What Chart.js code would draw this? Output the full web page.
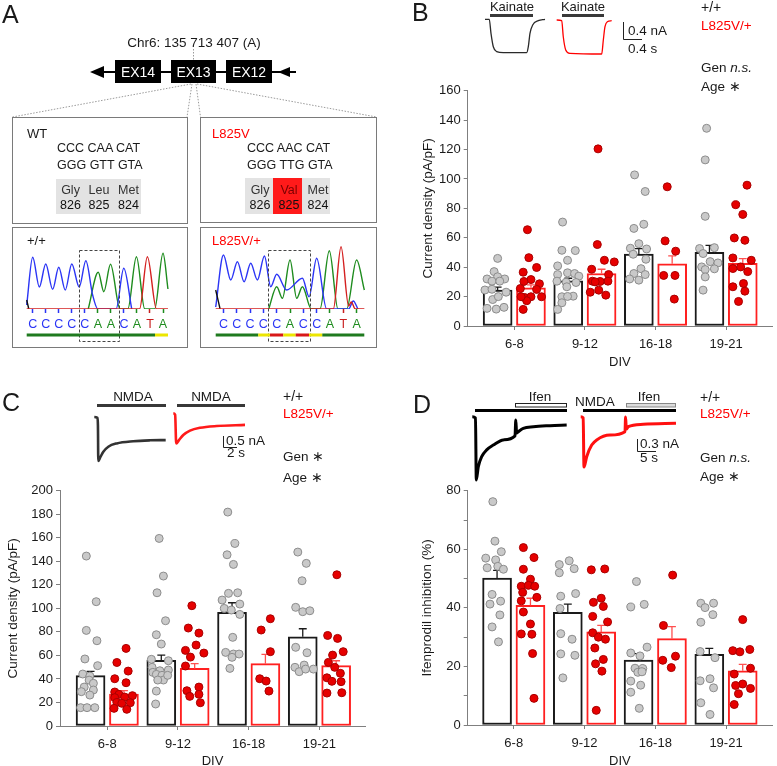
<!DOCTYPE html>
<html>
<head>
<meta charset="utf-8">
<title>GluN2A L825V currents</title>
<script src="https://cdn.jsdelivr.net/npm/chart.js@4.4.1/dist/chart.umd.min.js"></script>
<style>
  body { margin: 0; width: 777px; height: 766px; position: relative; overflow: hidden; background: #fff;
         font-family: "Liberation Sans", Arial, sans-serif; color: #1a1a1a; }
  canvas { position: absolute; z-index: 1; }
  svg { position: absolute; left: 0; top: 0; z-index: 2; }
  .t { position: absolute; white-space: pre; line-height: 1; z-index: 3; }
</style>
</head>
<body>
<svg width="777" height="766">
  <!-- panel A: gene schematic -->
  <g stroke="#9a9a9a" stroke-dasharray="1.5 1.5" fill="none">
    <line x1="193.5" y1="49" x2="193.5" y2="60"/>
    <line x1="191" y1="84" x2="12.5" y2="117"/>
    <line x1="192" y1="84" x2="187" y2="117"/>
    <line x1="196" y1="84" x2="200.5" y2="117"/>
    <line x1="197" y1="84" x2="376.5" y2="117"/>
  </g>
  <line x1="100" y1="72" x2="296" y2="72" stroke="#000" stroke-width="2"/>
  <polygon points="90,72 104,66 104,78" fill="#000"/>
  <polygon points="278,72 290,67 290,77" fill="#000"/>
  <rect x="115" y="60" width="46" height="23" fill="#000"/>
  <rect x="171" y="60" width="45" height="23" fill="#000"/>
  <rect x="226" y="60" width="46" height="23" fill="#000"/>
  <g fill="none" stroke="#7a7a7a">
    <rect x="12.5" y="117.5" width="175" height="106"/>
    <rect x="200.5" y="117.5" width="176" height="105"/>
    <rect x="12.5" y="227.5" width="175" height="120"/>
    <rect x="200.5" y="227.5" width="176" height="120"/>
  </g>
  <rect x="56" y="179" width="85" height="35" fill="#e3e3e3"/>
  <rect x="245" y="178" width="85" height="36" fill="#e3e3e3"/>
  <rect x="273" y="178" width="29" height="36" fill="#ff1a1a"/>
  <g fill="none" stroke="#444" stroke-dasharray="3 2">
    <rect x="79.5" y="250.5" width="40" height="91"/>
    <rect x="268.5" y="250.5" width="42" height="91"/>
  </g>
  <!-- quality bars under the base calls -->
  <rect x="26.7" y="333.5" width="128.3" height="3" fill="#1f7a1f"/>
  <rect x="155" y="333.5" width="13" height="3" fill="#ece600"/>
  <rect x="215.7" y="333.5" width="42.6" height="3" fill="#1f7a1f"/>
  <rect x="258.3" y="333.5" width="11.7" height="3" fill="#ece600"/>
  <rect x="270" y="333.5" width="13.3" height="3" fill="#d81818"/>
  <rect x="283.3" y="333.5" width="12.4" height="3" fill="#ece600"/>
  <rect x="295.7" y="333.5" width="13.3" height="3" fill="#d81818"/>
  <rect x="309" y="333.5" width="13.3" height="3" fill="#ece600"/>
  <rect x="322.3" y="333.5" width="42" height="3" fill="#1f7a1f"/>
  <!-- panel B stimulus bars and scale bar -->
  <rect x="490" y="14" width="43" height="3" fill="#383838"/>
  <rect x="562" y="14" width="42" height="3" fill="#383838"/>
  <polyline points="623.5,22 623.5,39.5 642,39.5" fill="none" stroke="#222"/>
  <!-- panel C -->
  <rect x="97" y="404" width="69" height="3" fill="#383838"/>
  <rect x="177" y="404" width="68" height="3" fill="#383838"/>
  <polyline points="223.5,436 223.5,447.5 237,447.5" fill="none" stroke="#222"/>
  <!-- panel D -->
  <rect x="515.5" y="403.5" width="51" height="3.5" fill="#fff" stroke="#222"/>
  <rect x="475" y="409" width="92" height="3" fill="#000"/>
  <rect x="626.5" y="403.5" width="49" height="3.5" fill="#dcdcdc" stroke="#888"/>
  <rect x="583" y="409" width="93" height="3" fill="#000"/>
  <polyline points="637.5,439 637.5,451.5 656,451.5" fill="none" stroke="#222"/>
</svg>
<script>
// ---- data ----
const divLabels = ['6-8', '9-12', '16-18', '19-21'];

// B: kainate current density (pA/pF); points are [value, x-offset within bar]
const kaWtMean = [24.4, 30.7, 49.0, 50.2];
const kaWtSem = [2.1, 1.8, 3.7, 4.7];
const kaMutMean = [26.0, 35.7, 42.3, 42.7];
const kaMutSem = [2.0, 2.9, 5.4, 3.2];
const kaWtPts = [
  [[46,0],[37,-0.05],[32,-0.15],[33.5,0],[32,0.1],[30.5,-0.08],[30.5,0.03],[24.5,-0.18],[25,-0.08],[23,0.12],[18,-0.07],[20,0.01],[12,-0.15],[11.5,-0.02],[12.7,0.09]],
  [[70.7,-0.08],[51.5,-0.09],[51.3,0.1],[44.7,-0.01],[40.9,-0.15],[36.2,-0.01],[35.7,0.09],[33.9,0.15],[35,-0.15],[30.5,-0.16],[29.8,-0.03],[29.6,0.11],[26.7,-0.02],[19.9,-0.09],[20.3,0.07],[20.1,-0.01],[15.8,-0.09],[11.3,-0.15]],
  [[102.8,-0.06],[91.5,0.09],[69.2,0.07],[66.4,-0.07],[56,0],[52.9,-0.12],[52.4,0.11],[48.8,-0.08],[45.4,0.1],[35.7,-0.07],[39,0.03],[35,0.09],[32,-0.13],[31.2,0]],
  [[134.5,-0.04],[113,-0.06],[74.6,-0.06],[52.7,-0.14],[53.3,0.07],[49.3,-0.09],[43.8,0.01],[40.2,-0.11],[42.9,0.12],[38.4,-0.06],[38.9,0.07],[33.4,-0.06],[24.4,-0.09]]
];
const kaMutPts = [
  [[65.5,-0.05],[46.5,-0.03],[39.8,0.08],[36.6,-0.11],[31.6,0],[30.3,-0.1],[28.7,0.12],[25.5,-0.15],[24.9,0.08],[19.4,-0.09],[19.9,0],[17.2,-0.06],[19.9,-0.14],[19.9,0.15],[11.3,-0.11]],
  [[120.5,-0.05],[55.4,-0.06],[44.7,0.04],[38.6,-0.14],[43.6,0.18],[35,0.1],[30.5,0.09],[30.5,-0.13],[30.3,-0.02],[30,-0.09],[23,-0.16],[24.4,-0.04],[21,0.06]],
  [[94.7,-0.07],[57.9,-0.1],[50.9,0.05],[34.4,-0.12],[34.4,0.04],[18.3,0.03]],
  [[95.8,0.06],[82.5,-0.1],[75.9,0],[59.9,-0.12],[58.3,0.03],[46.3,-0.14],[44.7,0.12],[39.1,-0.14],[40.2,-0.03],[37,0.07],[28.9,0.01],[26.7,-0.14],[23.7,0.03],[16.7,-0.06]]
];

// C: NMDA current density (pA/pF)
const nmWtMean = [42.8, 55.8, 96.6, 75.9];
const nmWtSem = [3.7, 4.5, 8.2, 6.8];
const nmMutMean = [27.2, 49.0, 53.0, 51.3];
const nmMutSem = [2.8, 4.0, 7.9, 4.2];
const nmWtPts = [
  [[144.5,-0.06],[105.7,0.08],[81.3,-0.06],[72.5,0.09],[57,-0.08],[51.3,0.1],[44.2,-0.11],[42.5,-0.01],[39,-0.02],[36.3,0.04],[33.1,-0.09],[30.6,0.04],[29.2,-0.13],[26.3,-0.01],[15.6,-0.14],[15.6,-0.05],[15.6,0.06]],
  [[159.5,-0.03],[127.5,0.03],[113.3,-0.06],[89.5,0.06],[77.6,-0.07],[69.7,0],[56.7,-0.14],[55.5,0.1],[49.9,-0.13],[47,-0.02],[45.6,-0.12],[43.9,-0.07],[43.1,0.01],[47.6,0.1],[39.1,0.03],[39.1,-0.05],[43.1,0.09],[29.7,-0.07],[18.7,-0.08]],
  [[181.9,-0.06],[155.2,0.04],[145.6,-0.07],[137.4,0.02],[107.1,-0.14],[112.8,-0.05],[113.3,0.08],[103.7,0.11],[100,-0.11],[98.6,-0.01],[94.9,0.11],[75.4,0.01],[62.6,-0.09],[61.2,0.02],[61.2,0.1],[58.4,0],[49,-0.03]],
  [[147.9,-0.07],[138.3,0.05],[123.5,-0.01],[100.9,-0.1],[97.2,0],[98,0.1],[66.9,-0.1],[62.3,0.06],[49.9,-0.11],[46.2,-0.05],[51.8,0.02],[48.4,0.04],[48.4,0.15]]
];
const nmMutPts = [
  [[66,0.03],[54,-0.1],[46.7,0.06],[40.2,-0.13],[36.8,0.03],[28.9,-0.13],[26.9,-0.07],[24.1,-0.13],[24.6,0.01],[25.8,0.12],[20.1,-0.1],[19.3,-0.03],[19.8,0.09],[15,-0.14],[14.2,0.04]],
  [[102.3,-0.04],[83.3,-0.09],[79,0.06],[68.8,0.02],[64.3,-0.13],[62,0.13],[58.6,-0.06],[51,-0.13],[30,-0.11],[33.1,0.06],[25.2,-0.07],[26.9,0.06],[19.8,0.08]],
  [[91.2,0.07],[81.6,-0.06],[63.2,0.07],[40.2,-0.08],[38.2,0.01],[29.7,0.05]],
  [[128.6,0.01],[77,-0.12],[74.5,0.02],[63.2,0.1],[60.3,-0.05],[54.1,-0.11],[49.9,-0.02],[44.8,0.06],[41,-0.13],[38,-0.06],[37.7,0.07],[28,-0.13],[28.3,0.08]]
];

// D: ifenprodil inhibition (%)
const ifWtMean = [50.2, 38.5, 22.2, 24.1];
const ifWtSem = [2.6, 2.8, 2.2, 2.1];
const ifMutMean = [40.9, 31.8, 29.5, 18.5];
const ifMutSem = [2.4, 2.2, 4.1, 2.2];
const ifWtPts = [
  [[76.3,-0.06],[62.8,-0.03],[57,-0.16],[56.4,-0.02],[59.2,0.06],[54.2,0.01],[53.7,-0.14],[53.2,0.09],[44.6,-0.07],[42.3,0.05],[41.3,-0.1],[37.6,0.04],[33.5,-0.07],[28.4,0.02]],
  [[54.8,-0.12],[56.1,0.02],[53.4,0.09],[52,-0.12],[44,-0.1],[44.9,0.11],[39.8,-0.11],[31.2,-0.1],[29.3,0.06],[24.3,-0.1],[23.8,0.1],[16.1,-0.07]],
  [[49,-0.03],[40.3,-0.11],[41.2,0.08],[26.6,0.12],[24.6,-0.11],[23.6,0.02],[19.4,-0.05],[19.3,0.06],[18,-0.01],[18.2,0.05],[15,-0.11],[13.6,0.03],[11.2,-0.11],[5.7,0.01]],
  [[41.6,-0.12],[40.1,-0.06],[41.6,0.06],[37.7,0.05],[35.1,-0.12],[25.1,-0.13],[23,0.08],[15.8,0.01],[15.1,-0.13],[12.7,0.06],[7.6,-0.12],[3.6,0.01]]
];
const ifMutPts = [
  [[60.6,-0.1],[57.2,0.05],[53.2,-0.1],[49.8,0],[47.4,-0.13],[47.7,-0.03],[47.4,0.06],[45.3,-0.11],[42.4,-0.13],[43.6,0.09],[38.6,-0.1],[34.5,0],[31.1,-0.13],[31,0.02],[24.4,0.03],[9.1,0.05]],
  [[53,-0.14],[53.3,0.05],[43.3,0],[41.9,-0.11],[40.5,0.03],[37.1,-0.12],[35.2,0.09],[31.5,-0.12],[30,-0.04],[29.3,0.06],[26.3,-0.09],[22.4,0.03],[20.9,-0.08],[18.4,0.01],[5,-0.07]],
  [[51.2,0.01],[34,-0.12],[22.1,-0.13],[23.5,0.05],[19.6,-0.01]],
  [[36,0],[25.4,-0.14],[25,-0.04],[25.8,0.1],[19.4,0.11],[17.4,-0.12],[14,0],[13.5,-0.1],[12.5,0.11],[10.7,-0.06],[7,-0.12]]
];

// example traces: [time (s), current (nA)]
const kaTraceWt = [[0,0],[0.09,0],[0.126,-0.33],[0.175,-0.645],[0.246,-0.76],[0.385,-0.785],[0.878,-0.785],[0.912,-0.645],[0.947,-0.33],[1.004,-0.134],[1.122,-0.033],[1.263,0]];
const kaTraceMut = [[1.509,-0.016],[1.615,-0.033],[1.648,-0.41],[1.699,-0.72],[1.789,-0.8],[2.457,-0.816],[2.491,-0.487],[2.526,-0.174],[2.575,-0.056],[2.667,-0.033]];
const nmTraceWt = [[0,0],[0.45,-0.04],[0.52,-0.4],[0.57,-2.0],[0.81,-1.86],[1.29,-1.58],[2.0,-1.35],[3.2,-1.2],[5.57,-1.1],[7.96,-1.06],[10.2,-1.05]];
const nmTraceMut = [[11.29,0.17],[11.55,0.1],[11.7,-1.2],[12.1,-1.05],[12.71,-0.82],[13.67,-0.62],[15.1,-0.49],[17.49,-0.41],[21.53,-0.36]];
const ifTraceWt = [[0,0],[0.84,-0.03],[1.05,-1.58],[1.58,-1.25],[2.47,-1.0],[3.79,-0.83],[5.53,-0.71],[8.16,-0.58],[11.24,-0.48],[11.45,-0.08],[11.66,-0.41],[12.1,-0.375],[13.42,-0.29],[16.05,-0.25],[20.45,-0.225],[24.84,-0.21]];
const ifTraceMut = [[28.53,0],[29.18,-0.03],[29.39,-1.26],[30.1,-1.0],[31.42,-0.71],[32.74,-0.58],[36.24,-0.46],[40.18,-0.375],[40.34,-0.01],[40.53,-0.31],[41.05,-0.25],[45.0,-0.19],[53.6,-0.165]];

// chromatograms: [base position, signal]
const seqWt = 'CCCCCAACATA';
const seqMut = 'CCCCCACCATA';
const chromWtBlue = [[-0.46,4],[0,51.7],[0.51,22],[1,45],[1.53,19.7],[2,41.7],[2.5,19],[3,45],[3.57,22],[4.08,48.3],[4.6,14],[5.0,0],[6.4,0],[6.99,40.7],[7.6,0]];
const chromWtGreen = [[4.26,0],[5.03,36.7],[5.46,17.3],[5.97,44.7],[6.7,0],[7.3,0],[7.96,52.3],[8.6,0],[9.36,0],[10,55.7],[10.38,20]];
const chromWtRed = [[-0.46,0],[8.2,0],[8.8,52.3],[9.5,0],[10.38,0]];
const chromWtBlack = [[-0.46,9],[-0.3,0]];
const chromMutBlue = [[-0.58,2],[0,54],[0.55,29],[1.05,47.3],[1.55,27.3],[2.05,45.7],[2.55,29],[3.08,53],[3.55,22.3],[4,34.7],[4.75,19],[5.93,30.7],[6.43,12.3],[7,50.7],[7.75,0],[9.4,0],[9.75,8],[10.1,0]];
const chromMutGreen = [[3.4,0],[4,22.3],[4.43,10.7],[5,49],[5.5,10.7],[5.93,22.3],[6.6,0],[7.25,0],[7.95,58.3],[8.6,0],[9.25,0],[10,49],[10.58,19]];
const chromMutRed = [[-0.58,0],[8.25,0],[8.83,62.3],[9.4,3],[9.6,7],[9.9,0],[10.58,0]];
const chromMutBlack = [[-0.58,19],[-0.25,0]];

// ---- setup ----
const RED = '#ff0000';
const GREY = '#7f7f7f';
const OFF = 0.236; // half distance between the two bars of a group

Chart.defaults.font.family = '"Liberation Sans", Arial, sans-serif';
Chart.defaults.color = '#1a1a1a';
Chart.defaults.animation = false;
Chart.defaults.responsive = false;
Chart.defaults.plugins.legend.display = false;
Chart.defaults.plugins.tooltip.enabled = false;

function makeCanvas(left, top, w, h) {
  const c = document.createElement('canvas');
  c.width = w; c.height = h;
  c.style.left = left + 'px';
  c.style.top = top + 'px';
  document.body.appendChild(c);
  return c;
}

function label(x, cy, text, size, color, align) {
  const d = document.createElement('div');
  d.className = 't';
  d.innerHTML = text;
  d.style.fontSize = size + 'px';
  d.style.left = x + 'px';
  d.style.top = (cy - size * 0.49) + 'px';
  if (color) d.style.color = color;
  if (align === 'center') d.style.transform = 'translateX(-50%)';
  document.body.appendChild(d);
}

// bar + dot panel (B, C, D)
function barPanel(p) {
  const pts = (groups, side) => groups.flatMap((g, i) => g.map(([v, dx]) => ({x: i + side * OFF + dx, y: v})));
  const bars = (means, side) => means.map((m, i) => ({x: i + side * OFF, y: m}));
  const errs = (means, sems, side) => means.flatMap((m, i) => {
    const x = i + side * OFF, top = m + sems[i], c = 0.056;
    return [{x, y: m}, {x, y: top}, {x, y: null}, {x: x - c, y: top}, {x: x + c, y: top}, {x, y: null}];
  });
  const barStyle = {type: 'bar', backgroundColor: '#fff', borderWidth: 2, borderSkipped: false,
                    barThickness: 29, grouped: false, stack: 's', order: 2};
  const errStyle = {type: 'line', borderWidth: 1.3, pointRadius: 0, spanGaps: false, tension: 0, order: 1};
  const dotStyle = {type: 'scatter', pointRadius: 4, pointBorderWidth: 1, order: 0};

  new Chart(makeCanvas(p.left, p.top, p.w, p.h), {
    type: 'bar',
    data: {
      datasets: [
        {...dotStyle, data: pts(p.wtPts, -1), pointBackgroundColor: '#c9c9c9', pointBorderColor: '#8c8c8c'},
        {...dotStyle, data: pts(p.mutPts, 1), pointBackgroundColor: '#e60000', pointBorderColor: '#a80000'},
        {...errStyle, data: errs(p.wtMean, p.wtSem, -1), borderColor: '#1a1a1a'},
        {...errStyle, data: errs(p.mutMean, p.mutSem, 1), borderColor: '#ff5050'},
        {...barStyle, data: bars(p.wtMean, -1), borderColor: '#1a1a1a'},
        {...barStyle, data: bars(p.mutMean, 1), borderColor: '#ff2020'}
      ]
    },
    options: {
      devicePixelRatio: 1,
      layout: {padding: {top: p.padTop, left: 0, right: 0, bottom: 0}},
      scales: {
        x: {
          type: 'linear', min: p.xMin, max: p.xMax, offset: false,
          afterBuildTicks: s => { s.ticks = divLabels.map((_, i) => ({value: i})); },
          afterFit: s => { s.height = p.xH; },
          ticks: {callback: v => divLabels[v], autoSkip: false, maxRotation: 0, padding: 7, font: {size: 13}},
          grid: {offset: false, drawOnChartArea: false, tickLength: 4, color: GREY},
          border: {color: GREY},
          title: {display: true, text: 'DIV', font: {size: 13}, padding: {top: 0, bottom: p.xTitlePad}}
        },
        y: {
          type: 'linear', min: 0, max: p.yMax,
          afterFit: s => { s.width = p.yW; },
          ticks: {stepSize: p.step, autoSkip: false, padding: 3, font: {size: 13},
                  callback: v => (v % p.labelEvery === 0 ? v : '')},
          grid: {drawOnChartArea: false, tickLength: 4, color: GREY},
          border: {color: GREY},
          title: {display: true, text: p.yTitle, font: {size: 13.5}, padding: {top: p.yTitlePad, bottom: 0}}
        }
      }
    }
  });
}

// example current traces, placed by a pixel origin and pixel-per-unit scale
function traceChart(left, top, w, h, x0, y0, pxX, pxY, sets) {
  new Chart(makeCanvas(left, top, w, h), {
    type: 'line',
    data: {
      datasets: sets.map(s => ({
        data: s.data.map(([x, y]) => ({x, y})),
        borderColor: s.color, borderWidth: s.width, pointRadius: 0,
        cubicInterpolationMode: 'monotone'
      }))
    },
    options: {
      devicePixelRatio: 1,
      layout: {padding: 0},
      scales: {
        x: {type: 'linear', display: false, min: (left - x0) / pxX, max: (left + w - x0) / pxX},
        y: {type: 'linear', display: false, min: (y0 - top - h) / pxY, max: (y0 - top) / pxY}
      }
    }
  });
}

const baseColor = {C: '#2b35f5', A: '#1e8c1e', T: '#c81e1e'};

function chromChart(left, top, w, h, xMin, xMax, bases, sets) {
  new Chart(makeCanvas(left, top, w, h), {
    type: 'line',
    data: {
      datasets: sets.map((s, i) => ({
        data: s.data.map(([x, y]) => ({x, y})),
        borderColor: s.color, borderWidth: 1.4, pointRadius: 0,
        cubicInterpolationMode: 'monotone', order: s.order
      }))
    },
    options: {
      devicePixelRatio: 1,
      layout: {padding: 0},
      scales: {
        x: {
          type: 'linear', min: xMin, max: xMax, offset: false,
          afterBuildTicks: s => { s.ticks = bases.split('').map((_, i) => ({value: i})); },
          afterFit: s => { s.height = 31; },
          border: {display: false},
          grid: {drawOnChartArea: false, tickLength: 4, tickWidth: 1.5,
                 tickColor: ctx => baseColor[bases[ctx.index]]},
          ticks: {callback: v => bases[v], autoSkip: false, maxRotation: 0, padding: 4.5,
                  font: {size: 12.5}, color: ctx => baseColor[bases[ctx.index]]}
        },
        y: {type: 'linear', display: false, min: 0, max: h - 31}
      }
    }
  });
}

// ---- panel A chromatograms ----
chromChart(20, 240, 155, 100, -0.974, 10.92, seqWt, [
  {data: chromWtBlue, color: baseColor.C, order: 2},
  {data: chromWtGreen, color: baseColor.A, order: 2},
  {data: chromWtBlack, color: '#111', order: 1},
  {data: chromWtRed, color: '#d42020', order: 0}
]);
chromChart(209, 240, 166, 100, -1.083, 11.38, seqMut, [
  {data: chromMutBlue, color: baseColor.C, order: 2},
  {data: chromMutGreen, color: baseColor.A, order: 2},
  {data: chromMutBlack, color: '#111', order: 1},
  {data: chromMutRed, color: '#d42020', order: 0}
]);

// ---- traces ----
traceChart(480, 12, 140, 48, 485, 19.3, 47.5, 42.5, [
  {data: kaTraceWt, color: '#2a2a2a', width: 1.3},
  {data: kaTraceMut, color: RED, width: 1.3}
]);
traceChart(88, 408, 162, 58, 94.3, 417, 7, 22, [
  {data: nmTraceWt, color: '#333', width: 2.6},
  {data: nmTraceMut, color: '#ff1a1a', width: 2.6}
]);
traceChart(466, 412, 215, 74, 472.3, 416.7, 3.8, 40, [
  {data: ifTraceWt, color: '#000', width: 3},
  {data: ifTraceMut, color: '#ff1010', width: 3}
]);

// ---- bar panels ----
barPanel({left: 390, top: 80, w: 387, h: 300, padTop: 10, yW: 77.7, xH: 54, xMin: -0.66, xMax: 3.65,
  yMax: 160, step: 20, labelEvery: 20, yTitle: 'Current density (pA/pF)', yTitlePad: 30, xTitlePad: 9.7,
  wtMean: kaWtMean, wtSem: kaWtSem, mutMean: kaMutMean, mutSem: kaMutSem, wtPts: kaWtPts, mutPts: kaMutPts});
barPanel({left: 0, top: 480, w: 370, h: 300, padTop: 10.7, yW: 60, xH: 54, xMin: -0.668, xMax: 3.644,
  yMax: 200, step: 20, labelEvery: 20, yTitle: 'Current density (pA/pF)', yTitlePad: 5, xTitlePad: 11,
  wtMean: nmWtMean, wtSem: nmWtSem, mutMean: nmMutMean, mutSem: nmMutSem, wtPts: nmWtPts, mutPts: nmMutPts});
barPanel({left: 390, top: 480, w: 387, h: 300, padTop: 10, yW: 77.7, xH: 55, xMin: -0.651, xMax: 3.65,
  yMax: 80, step: 10, labelEvery: 20, yTitle: 'Ifenprodil inhibition (%)', yTitlePad: 29, xTitlePad: 11,
  wtMean: ifWtMean, wtSem: ifWtSem, mutMean: ifMutMean, mutSem: ifMutSem, wtPts: ifWtPts, mutPts: ifMutPts});

// ---- text ----
[
  [2, 14, 'A', 25], [412, 12.5, 'B', 25], [2, 402.5, 'C', 25], [413, 404, 'D', 25],
  [194, 42.5, 'Chr6: 135 713 407 (A)', 13.5, null, 'center'],
  [138, 71.5, 'EX14', 14, '#fff', 'center'], [193.5, 71.5, 'EX13', 14, '#fff', 'center'], [249, 71.5, 'EX12', 14, '#fff', 'center'],
  [27, 133, 'WT', 13], [57, 148, 'CCC CAA CAT', 12.5], [57, 165, 'GGG GTT GTA', 12.5],
  [70.5, 190, 'Gly', 12.5, '#333', 'center'], [99, 190, 'Leu', 12.5, '#333', 'center'], [128.5, 190, 'Met', 12.5, '#333', 'center'],
  [70.5, 205, '826', 12.5, '#111', 'center'], [99, 205, '825', 12.5, '#111', 'center'], [128.5, 205, '824', 12.5, '#111', 'center'],
  [212, 133, 'L825V', 13, RED], [247, 148, 'CCC AAC CAT', 12.5], [247, 165, 'GGG TTG GTA', 12.5],
  [260, 190, 'Gly', 12.5, '#333', 'center'], [289, 190, 'Val', 12.5, '#7a0000', 'center'], [318, 190, 'Met', 12.5, '#333', 'center'],
  [260, 205, '826', 12.5, '#111', 'center'], [289, 205, '825', 12.5, '#111', 'center'], [318, 205, '824', 12.5, '#111', 'center'],
  [27, 240, '+/+', 13], [212, 240, 'L825V/+', 13, RED],
  [512, 6, 'Kainate', 13, null, 'center'], [583, 6, 'Kainate', 13, null, 'center'],
  [628, 30.5, '0.4 nA', 13.5], [628, 49, '0.4 s', 13.5],
  [701, 6.5, '+/+', 14], [701, 26, 'L825V/+', 13.5, RED], [701, 67.5, 'Gen <i>n.s.</i>', 13.5], [701, 86.5, 'Age \u2217', 13.5],
  [133, 397, 'NMDA', 13.5, null, 'center'], [211, 397, 'NMDA', 13.5, null, 'center'],
  [226, 440.5, '0.5 nA', 13.5], [227, 453, '2 s', 13.5],
  [283, 396, '+/+', 14], [283, 414, 'L825V/+', 13.5, RED], [283, 457, 'Gen \u2217', 13.5], [283, 478, 'Age \u2217', 13.5],
  [540, 397, 'Ifen', 13.5, null, 'center'], [649, 397, 'Ifen', 13.5, null, 'center'], [575, 402, 'NMDA', 13.5],
  [640, 444, '0.3 nA', 13.5], [640, 458, '5 s', 13.5],
  [700, 396.5, '+/+', 14], [700, 414, 'L825V/+', 13.5, RED], [700, 457.5, 'Gen <i>n.s.</i>', 13.5], [700, 476.5, 'Age \u2217', 13.5]
].forEach(a => label(...a));
</script>
</body>
</html>
